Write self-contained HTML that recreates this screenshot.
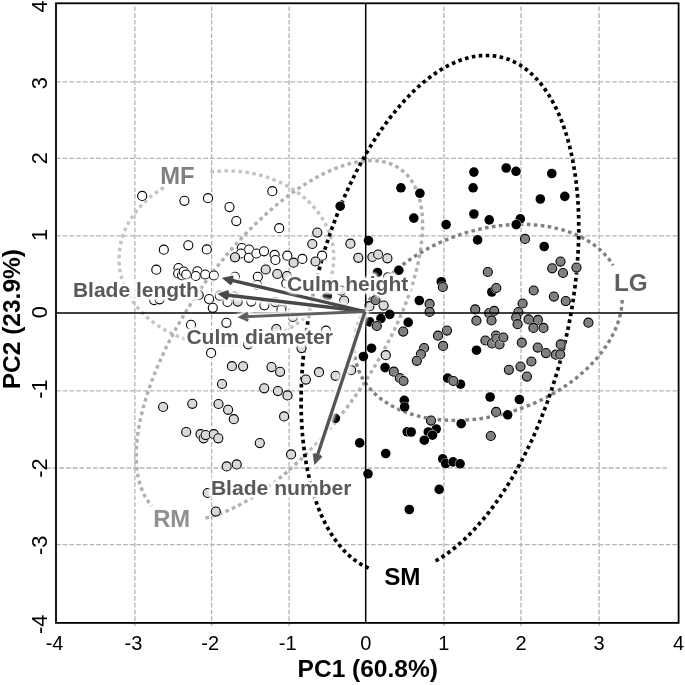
<!DOCTYPE html>
<html><head><meta charset="utf-8"><title>PCA biplot</title>
<style>
html,body{margin:0;padding:0;background:#fff}
svg{display:block}
.h{fill:#fff;stroke:none;opacity:.8}
text{font-family:"Liberation Sans",Arial,Helvetica,sans-serif}
</style></head><body>
<svg width="685" height="685" viewBox="0 0 685 685">
<defs><filter id="b" x="-10%" y="-30%" width="120%" height="160%"><feGaussianBlur stdDeviation="1.1"/></filter><filter id="b2" x="-10%" y="-10%" width="120%" height="120%"><feGaussianBlur stdDeviation="1.4"/></filter></defs>
<rect width="685" height="685" fill="#fff"/>
<g stroke="#b4b4b4" stroke-width="1.3" stroke-dasharray="4.7 2" fill="none"><line x1="134.9" y1="6.5" x2="134.9" y2="626"/><line x1="211.6" y1="6.5" x2="211.6" y2="626"/><line x1="289.1" y1="6.5" x2="289.1" y2="626"/><line x1="443.9" y1="6.5" x2="443.9" y2="626"/><line x1="521.0" y1="6.5" x2="521.0" y2="626"/><line x1="599.1" y1="6.5" x2="599.1" y2="626"/><line x1="56" y1="81.9" x2="679" y2="81.9"/><line x1="56" y1="158.4" x2="679" y2="158.4"/><line x1="56" y1="235.9" x2="679" y2="235.9"/><line x1="56" y1="390.9" x2="679" y2="390.9"/><line x1="56" y1="544.7" x2="679" y2="544.7"/><line x1="46" y1="468" x2="667" y2="468"/></g>
<g fill="none" stroke-width="3.7" stroke-dasharray="3.6 3.4">
<path d="M210.5 172.0 L213.1 171.7 L215.7 171.4 L218.3 171.2 L220.9 171.1 L223.5 171.0 L226.1 170.9 L228.7 170.9 L231.3 171.0 L234.0 171.1 L236.6 171.3 L239.2 171.5 L241.8 171.8 L244.3 172.1 L246.9 172.4 L249.5 172.9 L252.0 173.3 L254.6 173.8 L257.1 174.4 L259.6 175.0 L262.0 175.7 L264.5 176.4 L266.9 177.2 L269.3 178.0 L271.7 178.9 L274.1 179.8 L276.4 180.7 L278.7 181.7 L281.0 182.8 L283.2 183.9 L285.4 185.0 L287.6 186.2 L289.7 187.4 L291.8 188.7 L293.9 190.0 L295.9 191.3 L297.9 192.7 L299.8 194.1 L301.7 195.6 L303.5 197.1 L305.3 198.6 L307.1 200.2 L308.8 201.8 L310.4 203.4 L312.0 205.1 L313.6 206.8 L315.1 208.5 L316.5 210.3 L317.9 212.1 L319.3 213.9 L320.5 215.7 L321.8 217.6 L323.0 219.5 L324.1 221.4 L325.1 223.3 L326.1 225.3 L327.1 227.3 L327.9 229.3 L328.8 231.3 L329.5 233.3 L330.2 235.4 L330.9 237.4 L331.4 239.5 L332.0 241.6 L332.4 243.7 L332.8 245.8 L333.1 247.9 L333.4 250.0 L333.6 252.1 L333.7 254.2 L333.8 256.3 L333.8 258.5 L333.7 260.6 L333.6 262.7 L333.4 264.8 L333.2 267.0 L332.9 269.1 L332.5 271.2 L332.1 273.3 L331.6 275.4 L331.0 277.4 L330.4 279.5 L329.7 281.6 L329.0 283.6 L328.1 285.6 L327.3 287.6 L326.4 289.6 L325.4 291.6 L324.3 293.5 L323.2 295.5 L322.1 297.4 L320.8 299.3 L319.6 301.1 L318.2 303.0 L316.9 304.8 L315.4 306.6 L313.9 308.3 L312.4 310.0 L310.8 311.7 L309.2 313.4 L307.5 315.0 L305.7 316.6 L303.9 318.2 L302.1 319.7 L300.2 321.2 L298.3 322.6 L296.3 324.1 L294.3 325.4 L292.3 326.8 L290.2 328.1 L288.1 329.3 L285.9 330.5 L283.7 331.7 L281.5 332.8 L279.2 333.9 L276.9 334.9 L274.6 335.9 L272.3 336.9 L269.9 337.8 L267.5 338.6 L265.1 339.4 L262.6 340.2 L260.1 340.9 L257.6 341.5 L255.1 342.1 L252.6 342.7 L250.1 343.2 L247.5 343.6 L244.9 344.0 L242.4 344.4 L239.8 344.7 L237.2 344.9 L234.6 345.1 L232.0 345.3 L229.3 345.4 L226.7 345.4 L224.1 345.4 L221.5 345.4 L218.9 345.3 L216.3 345.1 L213.7 344.9 L211.1 344.6 L208.5 344.3 L205.9 343.9 L203.4 343.5 L200.8 343.1 L198.3 342.5 L195.8 342.0 L193.3 341.3 L190.8 340.7 L188.3 340.0 L185.9 339.2 L183.5 338.4 L181.1 337.5 L178.8 336.6 L176.4 335.7 L174.1 334.7 L171.9 333.6 L169.6 332.5 L167.4 331.4 L165.3 330.2 L163.1 329.0 L161.0 327.7 L159.0 326.4 L157.0 325.1 L155.0 323.7 L153.1 322.3 L151.2 320.8 L149.3 319.3 L147.5 317.8 L145.8 316.2 L144.1 314.6 L142.4 313.0 L140.8 311.3 L139.3 309.6 L137.8 307.9 L136.3 306.1 L134.9 304.3 L133.6 302.5 L132.3 300.6 L131.1 298.8 L129.9 296.9 L128.8 295.0 L127.7 293.0 L126.7 291.1 L125.8 289.1 L124.9 287.1 L124.1 285.1 L123.3 283.1 L122.6 281.0 L122.0 279.0 L121.4 276.9 L120.9 274.8 L120.4 272.7 L120.0 270.6 L119.7 268.5 L119.5 266.4 L119.3 264.3 L119.1 262.2 L119.1 260.0 L119.0 257.9 L119.1 255.8 L119.2 253.7 L119.4 251.5 L119.7 249.4 L120.0 247.3 L120.3 245.2 L120.8 243.1 L121.3 241.0 L121.8 238.9 L122.5 236.9 L123.1 234.8 L123.9 232.8 L124.7 230.8 L125.6 228.7 L126.5 226.8 L127.5 224.8 L128.5 222.8 L129.6 220.9 L130.8 219.0 L132.0 217.1 L133.3 215.2 L134.6 213.4 L136.0 211.6 L137.4 209.8 L138.9 208.1 L140.5 206.3 L142.0 204.6 L143.7 203.0 L145.4 201.3 L147.1 199.8 L148.9 198.2 L150.7 196.7 L152.6 195.2 L154.5 193.7 L156.5 192.3 L158.5 190.9 L160.6 189.6 L162.6 188.3 L164.8 187.1" stroke="#c4c4c4" stroke-width="3.4"/>
<path d="M205.5 518.0 L208.5 517.3 L211.5 516.5 L214.5 515.6 L217.6 514.5 L220.7 513.4 L223.9 512.2 L227.1 510.9 L230.3 509.5 L233.5 507.9 L236.8 506.3 L240.1 504.6 L243.4 502.8 L246.7 500.9 L250.1 498.9 L253.4 496.9 L256.8 494.7 L260.2 492.4 L263.6 490.1 L267.0 487.7 L270.4 485.2 L273.9 482.6 L277.3 479.9 L280.7 477.1 L284.2 474.3 L287.6 471.4 L291.0 468.4 L294.4 465.3 L297.8 462.2 L301.2 459.0 L304.6 455.7 L308.0 452.4 L311.3 449.0 L314.7 445.5 L318.0 442.0 L321.3 438.4 L324.6 434.7 L327.8 431.0 L331.0 427.3 L334.2 423.5 L337.4 419.7 L340.5 415.8 L343.6 411.8 L346.6 407.9 L349.6 403.8 L352.6 399.8 L355.5 395.7 L358.4 391.6 L361.2 387.5 L364.0 383.3 L366.8 379.1 L369.5 374.9 L372.1 370.6 L374.7 366.4 L377.2 362.1 L379.7 357.8 L382.1 353.5 L384.5 349.2 L386.8 344.9 L389.0 340.6 L391.2 336.3 L393.3 332.0 L395.4 327.7 L397.4 323.4 L399.3 319.1 L401.1 314.8 L402.9 310.6 L404.6 306.4 L406.2 302.1 L407.8 297.9 L409.3 293.8 L410.7 289.6 L412.0 285.5 L413.3 281.4 L414.5 277.4 L415.6 273.3 L416.6 269.4 L417.5 265.4 L418.4 261.5 L419.2 257.7 L419.9 253.9 L420.5 250.1 L421.1 246.4 L421.5 242.8 L421.9 239.2 L422.2 235.7 L422.4 232.2 L422.6 228.8 L422.6 225.4 L422.6 222.2 L422.5 218.9 L422.3 215.8 L422.0 212.7 L421.7 209.7 L421.2 206.8 L420.7 204.0 L420.1 201.2 L419.4 198.5 L418.7 195.9 L417.8 193.4 L416.9 191.0 L415.9 188.6 L414.8 186.3 L413.7 184.2 L412.4 182.1 L411.1 180.1 L409.8 178.2 L408.3 176.4 L406.8 174.7 L405.2 173.0 L403.5 171.5 L401.7 170.1 L399.9 168.7 L398.0 167.5 L396.1 166.4 L394.0 165.4 L391.9 164.4 L389.8 163.6 L387.6 162.9 L385.3 162.2 L383.0 161.7 L380.6 161.3 L378.1 161.0 L375.6 160.8 L373.0 160.6 L370.4 160.6 L367.7 160.7 L365.0 160.9 L362.2 161.2 L359.4 161.6 L356.5 162.1 L353.6 162.7 L350.6 163.4 L347.6 164.3 L344.6 165.2 L341.5 166.2 L338.4 167.3 L335.3 168.5 L332.1 169.8 L328.9 171.2 L325.7 172.7 L322.4 174.3 L319.1 176.0 L315.8 177.8 L312.5 179.7 L309.1 181.7 L305.8 183.8 L302.4 185.9 L299.0 188.2 L295.6 190.5 L292.2 192.9 L288.7 195.4 L285.3 198.0 L281.9 200.7 L278.5 203.4 L275.0 206.3 L271.6 209.2 L268.2 212.2 L264.8 215.2 L261.4 218.4 L258.0 221.6 L254.6 224.8 L251.2 228.2 L247.8 231.5 L244.5 235.0 L241.2 238.5 L237.9 242.1 L234.6 245.7 L231.4 249.4 L228.2 253.2 L225.0 257.0 L221.8 260.8 L218.7 264.7 L215.6 268.6 L212.5 272.6 L209.5 276.6 L206.5 280.6 L203.6 284.7 L200.7 288.8 L197.9 293.0 L195.1 297.1 L192.3 301.3 L189.6 305.6 L187.0 309.8 L184.4 314.1 L181.9 318.3 L179.4 322.6 L176.9 326.9 L174.6 331.2 L172.3 335.5 L170.0 339.8 L167.8 344.1 L165.7 348.4 L163.7 352.7 L161.7 357.0 L159.8 361.3 L157.9 365.6 L156.1 369.8 L154.4 374.1 L152.8 378.3 L151.2 382.5 L149.7 386.7 L148.3 390.8 L147.0 394.9 L145.7 399.0 L144.5 403.1 L143.4 407.1 L142.4 411.1 L141.4 415.0 L140.5 418.9 L139.7 422.8 L139.0 426.6 L138.4 430.3 L137.8 434.1 L137.4 437.7 L137.0 441.3 L136.7 444.8 L136.4 448.3 L136.3 451.7 L136.2 455.1 L136.2 458.4 L136.4 461.6 L136.5 464.7 L136.8 467.8 L137.1 470.8 L137.6 473.7 L138.1 476.6 L138.7 479.4 L139.4 482.1 L140.1 484.7 L140.9 487.2 L141.9 489.6 L142.8 492.0 L143.9 494.3 L145.1 496.5 L146.3 498.6 L147.6 500.6 L149.0 502.5 L150.4 504.3 L151.9 506.0" stroke="#b0b0b0" stroke-width="3.4"/>
<path d="M622.2 300.0 L622.1 302.4 L621.9 304.7 L621.6 307.1 L621.3 309.5 L620.8 311.9 L620.3 314.3 L619.7 316.7 L619.1 319.1 L618.3 321.6 L617.5 324.0 L616.6 326.4 L615.6 328.8 L614.5 331.2 L613.4 333.6 L612.1 336.0 L610.8 338.4 L609.5 340.8 L608.0 343.1 L606.5 345.5 L604.9 347.8 L603.3 350.2 L601.5 352.5 L599.7 354.8 L597.9 357.0 L595.9 359.3 L593.9 361.5 L591.9 363.7 L589.8 365.9 L587.6 368.0 L585.3 370.2 L583.0 372.3 L580.6 374.3 L578.2 376.4 L575.8 378.4 L573.2 380.3 L570.6 382.3 L568.0 384.1 L565.3 386.0 L562.6 387.8 L559.8 389.6 L557.0 391.3 L554.2 393.0 L551.3 394.7 L548.3 396.3 L545.4 397.9 L542.4 399.4 L539.3 400.8 L536.3 402.3 L533.2 403.6 L530.0 405.0 L526.9 406.2 L523.7 407.5 L520.5 408.6 L517.3 409.8 L514.1 410.8 L510.8 411.8 L507.5 412.8 L504.3 413.7 L501.0 414.6 L497.7 415.3 L494.4 416.1 L491.1 416.8 L487.8 417.4 L484.5 418.0 L481.2 418.5 L477.9 418.9 L474.6 419.3 L471.3 419.6 L468.0 419.9 L464.8 420.1 L461.5 420.3 L458.3 420.4 L455.1 420.4 L451.9 420.4 L448.7 420.3 L445.6 420.1 L442.5 419.9 L439.4 419.7 L436.3 419.3 L433.3 419.0 L430.3 418.5 L427.3 418.0 L424.4 417.5 L421.5 416.8 L418.6 416.2 L415.8 415.4 L413.1 414.7 L410.4 413.8 L407.7 412.9 L405.1 412.0 L402.5 411.0 L400.0 409.9 L397.5 408.8 L395.1 407.6 L392.8 406.4 L390.5 405.1 L388.3 403.8 L386.1 402.4 L384.0 401.0 L381.9 399.6 L379.9 398.0 L378.0 396.5 L376.2 394.9 L374.4 393.2 L372.7 391.5 L371.0 389.8 L369.5 388.0 L368.0 386.2 L366.5 384.4 L365.2 382.5 L363.9 380.6 L362.7 378.6 L361.6 376.6 L360.5 374.6 L359.6 372.5 L358.7 370.4 L357.9 368.3 L357.1 366.2 L356.5 364.0 L355.9 361.8 L355.4 359.6 L355.0 357.3 L354.6 355.0 L354.4 352.8 L354.2 350.5 L354.1 348.1 L354.1 345.8 L354.2 343.4 L354.3 341.1 L354.6 338.7 L354.9 336.3 L355.3 333.9 L355.8 331.5 L356.3 329.1 L357.0 326.7 L357.7 324.3 L358.5 321.9 L359.4 319.4 L360.3 317.0 L361.3 314.6 L362.5 312.2 L363.6 309.8 L364.9 307.4 L366.2 305.0 L367.7 302.7 L369.1 300.3 L370.7 298.0 L372.3 295.6 L374.0 293.3 L375.8 291.0 L377.6 288.7 L379.5 286.5 L381.5 284.2 L383.5 282.0 L385.6 279.8 L387.8 277.7 L390.0 275.5 L392.3 273.4 L394.6 271.4 L397.0 269.3 L399.5 267.3 L402.0 265.3 L404.5 263.4 L407.1 261.4 L409.8 259.6 L412.5 257.7 L415.3 255.9 L418.0 254.2 L420.9 252.5 L423.8 250.8 L426.7 249.2 L429.6 247.6 L432.6 246.0 L435.6 244.6 L438.7 243.1 L441.8 241.7 L444.9 240.4 L448.0 239.1 L451.2 237.8 L454.4 236.6 L457.6 235.5 L460.8 234.4 L464.1 233.4 L467.3 232.4 L470.6 231.4 L473.9 230.6 L477.2 229.7 L480.5 229.0 L483.8 228.3 L487.1 227.6 L490.4 227.0 L493.7 226.5 L497.0 226.0 L500.3 225.6 L503.6 225.3 L506.8 225.0 L510.1 224.7 L513.4 224.5 L516.6 224.4 L519.8 224.4 L523.0 224.4 L526.2 224.4 L529.4 224.5 L532.5 224.7 L535.6 225.0 L538.7 225.3 L541.7 225.6 L544.7 226.0 L547.7 226.5 L550.7 227.0 L553.6 227.6 L556.4 228.3 L559.2 229.0 L562.0 229.7 L564.8 230.5 L567.4 231.4 L570.1 232.3 L572.7 233.3 L575.2 234.4 L577.7 235.5 L580.1 236.6 L582.5 237.8 L584.8 239.0 L587.1 240.3 L589.3 241.7 L591.4 243.1 L593.5 244.5 L595.5 246.0 L597.5 247.5 L599.3 249.1 L601.2 250.8 L602.9 252.4 L604.6 254.1 L606.2 255.9 L607.7 257.7 L609.2 259.5 L610.6 261.4 L611.9 263.3 L613.1 265.3" stroke="#808080" stroke-width="3.4"/>
<path d="M435.6 561.0 L439.0 559.0 L442.3 556.9 L445.7 554.6 L449.0 552.2 L452.4 549.6 L455.7 547.0 L459.0 544.1 L462.4 541.2 L465.7 538.1 L469.0 534.9 L472.2 531.6 L475.5 528.1 L478.7 524.5 L481.9 520.8 L485.1 516.9 L488.3 513.0 L491.4 508.9 L494.5 504.7 L497.6 500.4 L500.6 496.0 L503.6 491.5 L506.6 486.9 L509.5 482.2 L512.4 477.4 L515.2 472.5 L518.0 467.5 L520.8 462.4 L523.5 457.2 L526.1 451.9 L528.7 446.6 L531.3 441.2 L533.8 435.7 L536.2 430.1 L538.6 424.5 L540.9 418.8 L543.2 413.1 L545.4 407.2 L547.6 401.4 L549.7 395.5 L551.7 389.5 L553.6 383.5 L555.5 377.4 L557.4 371.3 L559.1 365.2 L560.8 359.1 L562.4 352.9 L564.0 346.7 L565.4 340.5 L566.8 334.3 L568.2 328.0 L569.4 321.8 L570.6 315.5 L571.7 309.3 L572.7 303.0 L573.6 296.8 L574.5 290.5 L575.3 284.3 L576.0 278.1 L576.6 271.9 L577.2 265.7 L577.6 259.6 L578.0 253.5 L578.3 247.5 L578.6 241.4 L578.7 235.4 L578.8 229.5 L578.7 223.6 L578.7 217.8 L578.5 212.0 L578.2 206.3 L577.9 200.6 L577.5 195.1 L576.9 189.5 L576.4 184.1 L575.7 178.7 L575.0 173.4 L574.1 168.2 L573.2 163.1 L572.3 158.1 L571.2 153.1 L570.1 148.3 L568.9 143.5 L567.6 138.9 L566.2 134.3 L564.8 129.9 L563.3 125.6 L561.7 121.3 L560.1 117.2 L558.4 113.2 L556.6 109.3 L554.7 105.6 L552.8 101.9 L550.8 98.4 L548.8 95.0 L546.7 91.8 L544.5 88.6 L542.3 85.6 L540.0 82.8 L537.6 80.0 L535.2 77.5 L532.7 75.0 L530.2 72.7 L527.6 70.5 L525.0 68.5 L522.3 66.6 L519.6 64.8 L516.8 63.3 L514.0 61.8 L511.2 60.5 L508.3 59.3 L505.3 58.3 L502.3 57.5 L499.3 56.8 L496.3 56.2 L493.2 55.8 L490.1 55.6 L486.9 55.5 L483.8 55.5 L480.6 55.7 L477.4 56.0 L474.1 56.5 L470.9 57.2 L467.6 58.0 L464.3 59.0 L461.0 60.1 L457.6 61.3 L454.3 62.7 L451.0 64.2 L447.6 65.9 L444.3 67.8 L440.9 69.7 L437.6 71.9 L434.2 74.1 L430.9 76.5 L427.5 79.1 L424.2 81.8 L420.8 84.6 L417.5 87.5 L414.2 90.6 L410.9 93.8 L407.7 97.2 L404.4 100.6 L401.2 104.2 L398.0 107.9 L394.8 111.8 L391.6 115.7 L388.5 119.8 L385.4 124.0 L382.3 128.3 L379.3 132.7 L376.3 137.2 L373.3 141.8 L370.4 146.5 L367.5 151.3 L364.7 156.2 L361.9 161.2 L359.1 166.3 L356.4 171.5 L353.8 176.8 L351.2 182.1 L348.6 187.5 L346.1 193.0 L343.7 198.6 L341.3 204.2 L339.0 209.9 L336.7 215.7 L334.5 221.5 L332.3 227.3 L330.2 233.2 L328.2 239.2 L326.2 245.2 L324.4 251.3 L322.5 257.4 L320.8 263.5 L319.1 269.6 L317.5 275.8 L315.9 282.0 L314.5 288.2 L313.1 294.4 L311.7 300.7 L310.5 306.9 L309.3 313.2 L308.2 319.5 L307.2 325.7 L306.3 332.0 L305.4 338.2 L304.6 344.4 L303.9 350.6 L303.3 356.8 L302.7 363.0 L302.3 369.1 L301.9 375.2 L301.6 381.3 L301.3 387.3 L301.2 393.3 L301.1 399.2 L301.1 405.1 L301.2 410.9 L301.4 416.7 L301.7 422.4 L302.0 428.1 L302.4 433.7 L302.9 439.2 L303.5 444.6 L304.2 450.0 L304.9 455.3 L305.7 460.5 L306.6 465.6 L307.6 470.6 L308.7 475.6 L309.8 480.4 L311.0 485.2 L312.3 489.8 L313.6 494.4 L315.1 498.8 L316.6 503.2 L318.1 507.4 L319.8 511.5 L321.5 515.5 L323.3 519.4 L325.1 523.1 L327.1 526.8 L329.0 530.3 L331.1 533.7 L333.2 536.9 L335.4 540.1 L337.6 543.1 L339.9 545.9 L342.3 548.7 L344.7 551.3 L347.2 553.7 L349.7 556.0 L352.2 558.2 L354.9 560.2 L357.5 562.1 L360.3 563.9 L363.0 565.5 L365.9 566.9 L368.7 568.2" stroke="#000"/>
</g>
<g stroke="#000" stroke-width="1.1">
<g fill="#fff"><circle cx="142.2" cy="195.9" r="5.6" class="h"/><circle cx="142.2" cy="195.9" r="4.55"/>
<circle cx="184.4" cy="200.8" r="5.6" class="h"/><circle cx="184.4" cy="200.8" r="4.55"/>
<circle cx="208.0" cy="198.2" r="5.6" class="h"/><circle cx="208.0" cy="198.2" r="4.55"/>
<circle cx="229.5" cy="207.1" r="5.6" class="h"/><circle cx="229.5" cy="207.1" r="4.55"/>
<circle cx="236.3" cy="221.1" r="5.6" class="h"/><circle cx="236.3" cy="221.1" r="4.55"/>
<circle cx="272.3" cy="191.2" r="5.6" class="h"/><circle cx="272.3" cy="191.2" r="4.55"/>
<circle cx="279.2" cy="228.2" r="5.6" class="h"/><circle cx="279.2" cy="228.2" r="4.55"/>
<circle cx="163.8" cy="249.7" r="5.6" class="h"/><circle cx="163.8" cy="249.7" r="4.55"/>
<circle cx="188.3" cy="245.3" r="5.6" class="h"/><circle cx="188.3" cy="245.3" r="4.55"/>
<circle cx="206.8" cy="249.4" r="5.6" class="h"/><circle cx="206.8" cy="249.4" r="4.55"/>
<circle cx="156.3" cy="269.7" r="5.6" class="h"/><circle cx="156.3" cy="269.7" r="4.55"/>
<circle cx="178.5" cy="268.0" r="5.6" class="h"/><circle cx="178.5" cy="268.0" r="4.55"/>
<circle cx="178.2" cy="273.5" r="5.6" class="h"/><circle cx="178.2" cy="273.5" r="4.55"/>
<circle cx="182.1" cy="275.3" r="5.6" class="h"/><circle cx="182.1" cy="275.3" r="4.55"/>
<circle cx="183.7" cy="271.6" r="5.6" class="h"/><circle cx="183.7" cy="271.6" r="4.55"/>
<circle cx="186.2" cy="274.5" r="5.6" class="h"/><circle cx="186.2" cy="274.5" r="4.55"/>
<circle cx="197.4" cy="271.3" r="5.6" class="h"/><circle cx="197.4" cy="271.3" r="4.55"/>
<circle cx="195.7" cy="276.0" r="5.6" class="h"/><circle cx="195.7" cy="276.0" r="4.55"/>
<circle cx="205.2" cy="274.5" r="5.6" class="h"/><circle cx="205.2" cy="274.5" r="4.55"/>
<circle cx="213.9" cy="275.5" r="5.6" class="h"/><circle cx="213.9" cy="275.5" r="4.55"/>
<circle cx="154.1" cy="300.1" r="5.6" class="h"/><circle cx="154.1" cy="300.1" r="4.55"/>
<circle cx="159.6" cy="299.3" r="5.6" class="h"/><circle cx="159.6" cy="299.3" r="4.55"/>
<circle cx="209.1" cy="299.1" r="5.6" class="h"/><circle cx="209.1" cy="299.1" r="4.55"/>
<circle cx="212.8" cy="307.8" r="5.6" class="h"/><circle cx="212.8" cy="307.8" r="4.55"/>
<circle cx="219.8" cy="295.7" r="5.6" class="h"/><circle cx="219.8" cy="295.7" r="4.55"/>
<circle cx="227.5" cy="302.0" r="5.6" class="h"/><circle cx="227.5" cy="302.0" r="4.55"/>
<circle cx="191.0" cy="324.8" r="5.6" class="h"/><circle cx="191.0" cy="324.8" r="4.55"/>
<circle cx="226.4" cy="322.8" r="5.6" class="h"/><circle cx="226.4" cy="322.8" r="4.55"/>
<circle cx="241.8" cy="248.1" r="5.6" class="h"/><circle cx="241.8" cy="248.1" r="4.55"/>
<circle cx="249.1" cy="249.5" r="5.6" class="h"/><circle cx="249.1" cy="249.5" r="4.55"/>
<circle cx="241.0" cy="253.5" r="5.6" class="h"/><circle cx="241.0" cy="253.5" r="4.55"/>
<circle cx="248.8" cy="257.8" r="5.6" class="h"/><circle cx="248.8" cy="257.8" r="4.55"/>
<circle cx="256.4" cy="253.5" r="5.6" class="h"/><circle cx="256.4" cy="253.5" r="4.55"/>
<circle cx="264.0" cy="251.3" r="5.6" class="h"/><circle cx="264.0" cy="251.3" r="4.55"/>
<circle cx="274.6" cy="254.9" r="5.6" class="h"/><circle cx="274.6" cy="254.9" r="4.55"/>
<circle cx="275.4" cy="260.0" r="5.6" class="h"/><circle cx="275.4" cy="260.0" r="4.55"/>
<circle cx="287.3" cy="255.7" r="5.6" class="h"/><circle cx="287.3" cy="255.7" r="4.55"/>
<circle cx="302.4" cy="258.9" r="5.6" class="h"/><circle cx="302.4" cy="258.9" r="4.55"/>
<circle cx="322.1" cy="255.7" r="5.6" class="h"/><circle cx="322.1" cy="255.7" r="4.55"/>
<circle cx="257.8" cy="276.8" r="5.6" class="h"/><circle cx="257.8" cy="276.8" r="4.55"/>
<circle cx="286.3" cy="283.4" r="5.6" class="h"/><circle cx="286.3" cy="283.4" r="4.55"/>
<circle cx="234.9" cy="276.8" r="5.6" class="h"/><circle cx="234.9" cy="276.8" r="4.55"/>
<circle cx="257.1" cy="284.9" r="5.6" class="h"/><circle cx="257.1" cy="284.9" r="4.55"/>
<circle cx="233.8" cy="296.5" r="5.6" class="h"/><circle cx="233.8" cy="296.5" r="4.55"/>
<circle cx="251.3" cy="301.6" r="5.6" class="h"/><circle cx="251.3" cy="301.6" r="4.55"/>
<circle cx="264.4" cy="305.3" r="5.6" class="h"/><circle cx="264.4" cy="305.3" r="4.55"/>
<circle cx="281.6" cy="307.0" r="5.6" class="h"/><circle cx="281.6" cy="307.0" r="4.55"/>
<circle cx="211.1" cy="352.9" r="5.6" class="h"/><circle cx="211.1" cy="352.9" r="4.55"/>
<circle cx="281.4" cy="310.0" r="5.6" class="h"/><circle cx="281.4" cy="310.0" r="4.55"/>
<circle cx="326.0" cy="330.7" r="5.6" class="h"/><circle cx="326.0" cy="330.7" r="4.55"/></g>
<g fill="#d9d9d9"><circle cx="235.0" cy="257.3" r="5.6" class="h"/><circle cx="235.0" cy="257.3" r="4.55"/>
<circle cx="265.7" cy="269.5" r="5.6" class="h"/><circle cx="265.7" cy="269.5" r="4.55"/>
<circle cx="277.3" cy="274.0" r="5.6" class="h"/><circle cx="277.3" cy="274.0" r="4.55"/>
<circle cx="287.0" cy="276.1" r="5.6" class="h"/><circle cx="287.0" cy="276.1" r="4.55"/>
<circle cx="293.6" cy="262.7" r="5.6" class="h"/><circle cx="293.6" cy="262.7" r="4.55"/>
<circle cx="315.5" cy="261.5" r="5.6" class="h"/><circle cx="315.5" cy="261.5" r="4.55"/>
<circle cx="312.3" cy="244.0" r="5.6" class="h"/><circle cx="312.3" cy="244.0" r="4.55"/>
<circle cx="317.3" cy="232.6" r="5.6" class="h"/><circle cx="317.3" cy="232.6" r="4.55"/>
<circle cx="198.7" cy="295.1" r="5.6" class="h"/><circle cx="198.7" cy="295.1" r="4.55"/>
<circle cx="237.7" cy="301.6" r="5.6" class="h"/><circle cx="237.7" cy="301.6" r="4.55"/>
<circle cx="275.2" cy="302.1" r="5.6" class="h"/><circle cx="275.2" cy="302.1" r="4.55"/>
<circle cx="292.9" cy="317.0" r="5.6" class="h"/><circle cx="292.9" cy="317.0" r="4.55"/>
<circle cx="350.4" cy="243.7" r="5.6" class="h"/><circle cx="350.4" cy="243.7" r="4.55"/>
<circle cx="358.3" cy="257.8" r="5.6" class="h"/><circle cx="358.3" cy="257.8" r="4.55"/>
<circle cx="372.4" cy="257.0" r="5.6" class="h"/><circle cx="372.4" cy="257.0" r="4.55"/>
<circle cx="378.1" cy="254.5" r="5.6" class="h"/><circle cx="378.1" cy="254.5" r="4.55"/>
<circle cx="387.4" cy="258.3" r="5.6" class="h"/><circle cx="387.4" cy="258.3" r="4.55"/>
<circle cx="387.9" cy="277.3" r="5.6" class="h"/><circle cx="387.9" cy="277.3" r="4.55"/>
<circle cx="341.2" cy="290.7" r="5.6" class="h"/><circle cx="341.2" cy="290.7" r="4.55"/>
<circle cx="344.1" cy="300.5" r="5.6" class="h"/><circle cx="344.1" cy="300.5" r="4.55"/>
<circle cx="369.4" cy="306.2" r="5.6" class="h"/><circle cx="369.4" cy="306.2" r="4.55"/>
<circle cx="383.6" cy="305.6" r="5.6" class="h"/><circle cx="383.6" cy="305.6" r="4.55"/>
<circle cx="385.8" cy="355.2" r="5.6" class="h"/><circle cx="385.8" cy="355.2" r="4.55"/>
<circle cx="248.1" cy="344.3" r="5.6" class="h"/><circle cx="248.1" cy="344.3" r="4.55"/>
<circle cx="231.9" cy="366.2" r="5.6" class="h"/><circle cx="231.9" cy="366.2" r="4.55"/>
<circle cx="243.1" cy="366.3" r="5.6" class="h"/><circle cx="243.1" cy="366.3" r="4.55"/>
<circle cx="271.5" cy="367.1" r="5.6" class="h"/><circle cx="271.5" cy="367.1" r="4.55"/>
<circle cx="222.0" cy="384.0" r="5.6" class="h"/><circle cx="222.0" cy="384.0" r="4.55"/>
<circle cx="264.2" cy="388.3" r="5.6" class="h"/><circle cx="264.2" cy="388.3" r="4.55"/>
<circle cx="163.1" cy="407.0" r="5.6" class="h"/><circle cx="163.1" cy="407.0" r="4.55"/>
<circle cx="192.3" cy="403.8" r="5.6" class="h"/><circle cx="192.3" cy="403.8" r="4.55"/>
<circle cx="218.5" cy="404.0" r="5.6" class="h"/><circle cx="218.5" cy="404.0" r="4.55"/>
<circle cx="228.1" cy="409.8" r="5.6" class="h"/><circle cx="228.1" cy="409.8" r="4.55"/>
<circle cx="233.8" cy="419.2" r="5.6" class="h"/><circle cx="233.8" cy="419.2" r="4.55"/>
<circle cx="186.2" cy="432.0" r="5.6" class="h"/><circle cx="186.2" cy="432.0" r="4.55"/>
<circle cx="200.5" cy="434.2" r="5.6" class="h"/><circle cx="200.5" cy="434.2" r="4.55"/>
<circle cx="203.6" cy="438.3" r="5.6" class="h"/><circle cx="203.6" cy="438.3" r="4.55"/>
<circle cx="205.6" cy="435.1" r="5.6" class="h"/><circle cx="205.6" cy="435.1" r="4.55"/>
<circle cx="213.8" cy="434.2" r="5.6" class="h"/><circle cx="213.8" cy="434.2" r="4.55"/>
<circle cx="218.3" cy="438.3" r="5.6" class="h"/><circle cx="218.3" cy="438.3" r="4.55"/>
<circle cx="259.8" cy="443.1" r="5.6" class="h"/><circle cx="259.8" cy="443.1" r="4.55"/>
<circle cx="226.7" cy="466.4" r="5.6" class="h"/><circle cx="226.7" cy="466.4" r="4.55"/>
<circle cx="236.7" cy="464.4" r="5.6" class="h"/><circle cx="236.7" cy="464.4" r="4.55"/>
<circle cx="207.7" cy="493.0" r="5.6" class="h"/><circle cx="207.7" cy="493.0" r="4.55"/>
<circle cx="215.8" cy="511.6" r="5.6" class="h"/><circle cx="215.8" cy="511.6" r="4.55"/>
<circle cx="276.3" cy="329.0" r="5.6" class="h"/><circle cx="276.3" cy="329.0" r="4.55"/>
<circle cx="301.5" cy="348.1" r="5.6" class="h"/><circle cx="301.5" cy="348.1" r="4.55"/>
<circle cx="280.1" cy="371.8" r="5.6" class="h"/><circle cx="280.1" cy="371.8" r="4.55"/>
<circle cx="319.0" cy="372.2" r="5.6" class="h"/><circle cx="319.0" cy="372.2" r="4.55"/>
<circle cx="335.6" cy="375.8" r="5.6" class="h"/><circle cx="335.6" cy="375.8" r="4.55"/>
<circle cx="305.9" cy="379.6" r="5.6" class="h"/><circle cx="305.9" cy="379.6" r="4.55"/>
<circle cx="277.9" cy="391.1" r="5.6" class="h"/><circle cx="277.9" cy="391.1" r="4.55"/>
<circle cx="287.5" cy="395.4" r="5.6" class="h"/><circle cx="287.5" cy="395.4" r="4.55"/>
<circle cx="284.1" cy="416.4" r="5.6" class="h"/><circle cx="284.1" cy="416.4" r="4.55"/>
<circle cx="291.1" cy="454.4" r="5.6" class="h"/><circle cx="291.1" cy="454.4" r="4.55"/>
<circle cx="351.1" cy="370.2" r="5.6" class="h"/><circle cx="351.1" cy="370.2" r="4.55"/></g>
<g fill="#000" stroke="none"><circle cx="340.2" cy="206.2" r="5.35" class="h"/><circle cx="340.2" cy="206.2" r="4.8"/>
<circle cx="400.9" cy="187.8" r="5.35" class="h"/><circle cx="400.9" cy="187.8" r="4.8"/>
<circle cx="419.9" cy="193.3" r="5.35" class="h"/><circle cx="419.9" cy="193.3" r="4.8"/>
<circle cx="413.8" cy="218.1" r="5.35" class="h"/><circle cx="413.8" cy="218.1" r="4.8"/>
<circle cx="446.1" cy="224.6" r="5.35" class="h"/><circle cx="446.1" cy="224.6" r="4.8"/>
<circle cx="368.5" cy="240.6" r="5.35" class="h"/><circle cx="368.5" cy="240.6" r="4.8"/>
<circle cx="377.5" cy="272.5" r="5.35" class="h"/><circle cx="377.5" cy="272.5" r="4.8"/>
<circle cx="398.8" cy="270.3" r="5.35" class="h"/><circle cx="398.8" cy="270.3" r="4.8"/>
<circle cx="441.3" cy="281.7" r="5.35" class="h"/><circle cx="441.3" cy="281.7" r="4.8"/>
<circle cx="473.9" cy="172.1" r="5.35" class="h"/><circle cx="473.9" cy="172.1" r="4.8"/>
<circle cx="506.2" cy="168.0" r="5.35" class="h"/><circle cx="506.2" cy="168.0" r="4.8"/>
<circle cx="516.0" cy="171.3" r="5.35" class="h"/><circle cx="516.0" cy="171.3" r="4.8"/>
<circle cx="551.8" cy="173.5" r="5.35" class="h"/><circle cx="551.8" cy="173.5" r="4.8"/>
<circle cx="473.1" cy="187.8" r="5.35" class="h"/><circle cx="473.1" cy="187.8" r="4.8"/>
<circle cx="540.3" cy="199.0" r="5.35" class="h"/><circle cx="540.3" cy="199.0" r="4.8"/>
<circle cx="564.8" cy="196.4" r="5.35" class="h"/><circle cx="564.8" cy="196.4" r="4.8"/>
<circle cx="473.9" cy="214.0" r="5.35" class="h"/><circle cx="473.9" cy="214.0" r="4.8"/>
<circle cx="489.2" cy="219.9" r="5.35" class="h"/><circle cx="489.2" cy="219.9" r="4.8"/>
<circle cx="520.3" cy="218.9" r="5.35" class="h"/><circle cx="520.3" cy="218.9" r="4.8"/>
<circle cx="516.2" cy="224.6" r="5.35" class="h"/><circle cx="516.2" cy="224.6" r="4.8"/>
<circle cx="477.6" cy="239.9" r="5.35" class="h"/><circle cx="477.6" cy="239.9" r="4.8"/>
<circle cx="544.2" cy="246.5" r="5.35" class="h"/><circle cx="544.2" cy="246.5" r="4.8"/>
<circle cx="491.8" cy="292.0" r="5.35" class="h"/><circle cx="491.8" cy="292.0" r="4.8"/>
<circle cx="419.3" cy="300.5" r="5.35" class="h"/><circle cx="419.3" cy="300.5" r="4.8"/>
<circle cx="327.3" cy="295.8" r="5.35" class="h"/><circle cx="327.3" cy="295.8" r="4.8"/>
<circle cx="389.7" cy="314.4" r="5.35" class="h"/><circle cx="389.7" cy="314.4" r="4.8"/>
<circle cx="380.9" cy="318.6" r="5.35" class="h"/><circle cx="380.9" cy="318.6" r="4.8"/>
<circle cx="369.7" cy="321.9" r="5.35" class="h"/><circle cx="369.7" cy="321.9" r="4.8"/>
<circle cx="408.2" cy="322.4" r="5.35" class="h"/><circle cx="408.2" cy="322.4" r="4.8"/>
<circle cx="371.5" cy="348.2" r="5.35" class="h"/><circle cx="371.5" cy="348.2" r="4.8"/>
<circle cx="363.4" cy="356.5" r="5.35" class="h"/><circle cx="363.4" cy="356.5" r="4.8"/>
<circle cx="385.1" cy="367.6" r="5.35" class="h"/><circle cx="385.1" cy="367.6" r="4.8"/>
<circle cx="476.5" cy="350.2" r="5.35" class="h"/><circle cx="476.5" cy="350.2" r="4.8"/>
<circle cx="447.6" cy="378.1" r="5.35" class="h"/><circle cx="447.6" cy="378.1" r="4.8"/>
<circle cx="460.5" cy="384.2" r="5.35" class="h"/><circle cx="460.5" cy="384.2" r="4.8"/>
<circle cx="404.3" cy="400.3" r="5.35" class="h"/><circle cx="404.3" cy="400.3" r="4.8"/>
<circle cx="404.6" cy="407.0" r="5.35" class="h"/><circle cx="404.6" cy="407.0" r="4.8"/>
<circle cx="490.1" cy="397.0" r="5.35" class="h"/><circle cx="490.1" cy="397.0" r="4.8"/>
<circle cx="519.4" cy="399.5" r="5.35" class="h"/><circle cx="519.4" cy="399.5" r="4.8"/>
<circle cx="507.7" cy="414.8" r="5.35" class="h"/><circle cx="507.7" cy="414.8" r="4.8"/>
<circle cx="461.2" cy="423.7" r="5.35" class="h"/><circle cx="461.2" cy="423.7" r="4.8"/>
<circle cx="407.2" cy="431.8" r="5.35" class="h"/><circle cx="407.2" cy="431.8" r="4.8"/>
<circle cx="411.2" cy="432.0" r="5.35" class="h"/><circle cx="411.2" cy="432.0" r="4.8"/>
<circle cx="436.2" cy="429.0" r="5.35" class="h"/><circle cx="436.2" cy="429.0" r="4.8"/>
<circle cx="428.3" cy="432.0" r="5.35" class="h"/><circle cx="428.3" cy="432.0" r="4.8"/>
<circle cx="432.5" cy="435.2" r="5.35" class="h"/><circle cx="432.5" cy="435.2" r="4.8"/>
<circle cx="424.3" cy="440.2" r="5.35" class="h"/><circle cx="424.3" cy="440.2" r="4.8"/>
<circle cx="335.3" cy="418.4" r="5.35" class="h"/><circle cx="335.3" cy="418.4" r="4.8"/>
<circle cx="359.7" cy="442.9" r="5.35" class="h"/><circle cx="359.7" cy="442.9" r="4.8"/>
<circle cx="385.7" cy="453.5" r="5.35" class="h"/><circle cx="385.7" cy="453.5" r="4.8"/>
<circle cx="368.0" cy="473.8" r="5.35" class="h"/><circle cx="368.0" cy="473.8" r="4.8"/>
<circle cx="409.3" cy="509.5" r="5.35" class="h"/><circle cx="409.3" cy="509.5" r="4.8"/>
<circle cx="439.2" cy="489.4" r="5.35" class="h"/><circle cx="439.2" cy="489.4" r="4.8"/>
<circle cx="442.7" cy="458.9" r="5.35" class="h"/><circle cx="442.7" cy="458.9" r="4.8"/>
<circle cx="445.7" cy="463.5" r="5.35" class="h"/><circle cx="445.7" cy="463.5" r="4.8"/>
<circle cx="453.1" cy="461.9" r="5.35" class="h"/><circle cx="453.1" cy="461.9" r="4.8"/>
<circle cx="460.1" cy="463.8" r="5.35" class="h"/><circle cx="460.1" cy="463.8" r="4.8"/></g>
<g fill="#808080"><circle cx="375.5" cy="300.2" r="5.6" class="h"/><circle cx="375.5" cy="300.2" r="4.55"/>
<circle cx="376.8" cy="326.0" r="5.6" class="h"/><circle cx="376.8" cy="326.0" r="4.55"/>
<circle cx="442.8" cy="287.0" r="5.6" class="h"/><circle cx="442.8" cy="287.0" r="4.55"/>
<circle cx="487.8" cy="272.0" r="5.6" class="h"/><circle cx="487.8" cy="272.0" r="4.55"/>
<circle cx="496.3" cy="288.0" r="5.6" class="h"/><circle cx="496.3" cy="288.0" r="4.55"/>
<circle cx="429.6" cy="303.9" r="5.6" class="h"/><circle cx="429.6" cy="303.9" r="4.55"/>
<circle cx="429.6" cy="311.9" r="5.6" class="h"/><circle cx="429.6" cy="311.9" r="4.55"/>
<circle cx="475.2" cy="309.4" r="5.6" class="h"/><circle cx="475.2" cy="309.4" r="4.55"/>
<circle cx="489.1" cy="313.1" r="5.6" class="h"/><circle cx="489.1" cy="313.1" r="4.55"/>
<circle cx="494.2" cy="310.9" r="5.6" class="h"/><circle cx="494.2" cy="310.9" r="4.55"/>
<circle cx="476.4" cy="320.7" r="5.6" class="h"/><circle cx="476.4" cy="320.7" r="4.55"/>
<circle cx="491.5" cy="320.4" r="5.6" class="h"/><circle cx="491.5" cy="320.4" r="4.55"/>
<circle cx="403.2" cy="331.6" r="5.6" class="h"/><circle cx="403.2" cy="331.6" r="4.55"/>
<circle cx="447.0" cy="330.6" r="5.6" class="h"/><circle cx="447.0" cy="330.6" r="4.55"/>
<circle cx="438.0" cy="335.7" r="5.6" class="h"/><circle cx="438.0" cy="335.7" r="4.55"/>
<circle cx="443.1" cy="345.9" r="5.6" class="h"/><circle cx="443.1" cy="345.9" r="4.55"/>
<circle cx="424.1" cy="348.0" r="5.6" class="h"/><circle cx="424.1" cy="348.0" r="4.55"/>
<circle cx="420.9" cy="354.2" r="5.6" class="h"/><circle cx="420.9" cy="354.2" r="4.55"/>
<circle cx="416.8" cy="360.8" r="5.6" class="h"/><circle cx="416.8" cy="360.8" r="4.55"/>
<circle cx="485.4" cy="340.5" r="5.6" class="h"/><circle cx="485.4" cy="340.5" r="4.55"/>
<circle cx="492.0" cy="343.4" r="5.6" class="h"/><circle cx="492.0" cy="343.4" r="4.55"/>
<circle cx="495.9" cy="335.5" r="5.6" class="h"/><circle cx="495.9" cy="335.5" r="4.55"/>
<circle cx="496.4" cy="338.5" r="5.6" class="h"/><circle cx="496.4" cy="338.5" r="4.55"/>
<circle cx="499.5" cy="344.5" r="5.6" class="h"/><circle cx="499.5" cy="344.5" r="4.55"/>
<circle cx="503.3" cy="337.5" r="5.6" class="h"/><circle cx="503.3" cy="337.5" r="4.55"/>
<circle cx="525.0" cy="238.9" r="5.6" class="h"/><circle cx="525.0" cy="238.9" r="4.55"/>
<circle cx="560.5" cy="261.6" r="5.6" class="h"/><circle cx="560.5" cy="261.6" r="4.55"/>
<circle cx="552.2" cy="268.3" r="5.6" class="h"/><circle cx="552.2" cy="268.3" r="4.55"/>
<circle cx="563.0" cy="273.0" r="5.6" class="h"/><circle cx="563.0" cy="273.0" r="4.55"/>
<circle cx="576.5" cy="267.6" r="5.6" class="h"/><circle cx="576.5" cy="267.6" r="4.55"/>
<circle cx="533.7" cy="290.5" r="5.6" class="h"/><circle cx="533.7" cy="290.5" r="4.55"/>
<circle cx="553.9" cy="296.6" r="5.6" class="h"/><circle cx="553.9" cy="296.6" r="4.55"/>
<circle cx="565.8" cy="301.1" r="5.6" class="h"/><circle cx="565.8" cy="301.1" r="4.55"/>
<circle cx="522.6" cy="303.5" r="5.6" class="h"/><circle cx="522.6" cy="303.5" r="4.55"/>
<circle cx="518.4" cy="312.1" r="5.6" class="h"/><circle cx="518.4" cy="312.1" r="4.55"/>
<circle cx="516.2" cy="317.4" r="5.6" class="h"/><circle cx="516.2" cy="317.4" r="4.55"/>
<circle cx="517.6" cy="324.2" r="5.6" class="h"/><circle cx="517.6" cy="324.2" r="4.55"/>
<circle cx="528.5" cy="319.4" r="5.6" class="h"/><circle cx="528.5" cy="319.4" r="4.55"/>
<circle cx="537.9" cy="319.9" r="5.6" class="h"/><circle cx="537.9" cy="319.9" r="4.55"/>
<circle cx="533.4" cy="327.9" r="5.6" class="h"/><circle cx="533.4" cy="327.9" r="4.55"/>
<circle cx="543.5" cy="327.9" r="5.6" class="h"/><circle cx="543.5" cy="327.9" r="4.55"/>
<circle cx="588.4" cy="322.7" r="5.6" class="h"/><circle cx="588.4" cy="322.7" r="4.55"/>
<circle cx="521.8" cy="342.7" r="5.6" class="h"/><circle cx="521.8" cy="342.7" r="4.55"/>
<circle cx="537.7" cy="347.6" r="5.6" class="h"/><circle cx="537.7" cy="347.6" r="4.55"/>
<circle cx="545.9" cy="353.1" r="5.6" class="h"/><circle cx="545.9" cy="353.1" r="4.55"/>
<circle cx="560.7" cy="344.4" r="5.6" class="h"/><circle cx="560.7" cy="344.4" r="4.55"/>
<circle cx="555.8" cy="354.7" r="5.6" class="h"/><circle cx="555.8" cy="354.7" r="4.55"/>
<circle cx="560.2" cy="354.4" r="5.6" class="h"/><circle cx="560.2" cy="354.4" r="4.55"/>
<circle cx="531.4" cy="361.5" r="5.6" class="h"/><circle cx="531.4" cy="361.5" r="4.55"/>
<circle cx="520.5" cy="366.6" r="5.6" class="h"/><circle cx="520.5" cy="366.6" r="4.55"/>
<circle cx="508.9" cy="369.8" r="5.6" class="h"/><circle cx="508.9" cy="369.8" r="4.55"/>
<circle cx="526.9" cy="376.6" r="5.6" class="h"/><circle cx="526.9" cy="376.6" r="4.55"/>
<circle cx="496.1" cy="411.9" r="5.6" class="h"/><circle cx="496.1" cy="411.9" r="4.55"/>
<circle cx="490.8" cy="436.0" r="5.6" class="h"/><circle cx="490.8" cy="436.0" r="4.55"/>
<circle cx="393.8" cy="371.7" r="5.6" class="h"/><circle cx="393.8" cy="371.7" r="4.55"/>
<circle cx="399.8" cy="378.0" r="5.6" class="h"/><circle cx="399.8" cy="378.0" r="4.55"/>
<circle cx="403.5" cy="381.0" r="5.6" class="h"/><circle cx="403.5" cy="381.0" r="4.55"/>
<circle cx="453.3" cy="381.0" r="5.6" class="h"/><circle cx="453.3" cy="381.0" r="4.55"/>
<circle cx="431.0" cy="420.6" r="5.6" class="h"/><circle cx="431.0" cy="420.6" r="4.55"/></g>
</g>
<g stroke="#000" stroke-width="1.5"><line x1="365.7" y1="3" x2="365.7" y2="623"/><line x1="56" y1="312.9" x2="679" y2="312.9"/></g>
<path d="M365.0 311.5 L226.6 279.1 M233.4 277.0 L225.4 278.8 L231.7 284.1 M365.0 311.5 L222.3 294.5 M228.8 291.6 L221.1 294.3 L227.9 298.8 M365.0 311.5 L242.0 316.9 M248.0 313.0 L240.8 317.0 L248.3 320.3 M365.0 311.5 L315.8 460.3 M314.3 453.4 L315.5 461.5 L321.2 455.7" fill="none" stroke="#fff" stroke-width="8.5" stroke-opacity="0.92" stroke-linecap="round" filter="url(#b2)"/>
<g fill="none" stroke-linejoin="miter" stroke-miterlimit="10"><path d="M365.0 311.5 L226.6 279.1 M233.4 277.0 L225.4 278.8 L231.7 284.1" stroke="#474747" stroke-width="3.3"/><path d="M365.0 311.5 L222.3 294.5 M228.8 291.6 L221.1 294.3 L227.9 298.8" stroke="#474747" stroke-width="3.3"/><path d="M365.0 311.5 L242.0 316.9 M248.0 313.0 L240.8 317.0 L248.3 320.3" stroke="#5e5e5e" stroke-width="2.9"/><path d="M365.0 311.5 L315.8 460.3 M314.3 453.4 L315.5 461.5 L321.2 455.7" stroke="#555" stroke-width="3.3"/></g>
<g font-weight="bold" fill="#fff" stroke="#fff" stroke-width="6.5" stroke-linejoin="round" filter="url(#b)"><text x="72.9" y="296.7" font-size="21.0">Blade length</text><text x="286.9" y="291.0" font-size="21.0">Culm height</text><text x="186.4" y="343.5" font-size="21.1">Culm diameter</text><text x="210.9" y="495.3" font-size="21.1">Blade number</text></g>
<g font-weight="bold"><text x="72.9" y="296.7" font-size="21.0" fill="#595959">Blade length</text><text x="286.9" y="291.0" font-size="21.0" fill="#595959">Culm height</text><text x="186.4" y="343.5" font-size="21.1" fill="#595959">Culm diameter</text><text x="210.9" y="495.3" font-size="21.1" fill="#595959">Blade number</text><text x="160.3" y="184.3" font-size="23.8" fill="#808080">MF</text><text x="153.2" y="527.1" font-size="23.8" fill="#909090">RM</text><text x="613.9" y="290.9" font-size="24.2" fill="#5f5f5f">LG</text><text x="384.2" y="584.9" font-size="24.2" fill="#000">SM</text></g>
<rect x="56" y="3.3" width="622.6" height="619.6" fill="none" stroke="#000" stroke-width="1.8"/>
<g font-size="20" fill="#000"><text x="54.6" y="650.2" text-anchor="middle">-4</text><text x="133.5" y="650.2" text-anchor="middle">-3</text><text x="210.2" y="650.2" text-anchor="middle">-2</text><text x="287.7" y="650.2" text-anchor="middle">-1</text><text x="365.7" y="650.2" text-anchor="middle">0</text><text x="443.9" y="650.2" text-anchor="middle">1</text><text x="521.0" y="650.2" text-anchor="middle">2</text><text x="599.1" y="650.2" text-anchor="middle">3</text><text x="678.5" y="650.2" text-anchor="middle">4</text><text transform="translate(46.6 6.5) rotate(-90)" text-anchor="middle" font-size="21.8">4</text><text transform="translate(46.6 83.2) rotate(-90)" text-anchor="middle" font-size="21.8">3</text><text transform="translate(46.6 158.1) rotate(-90)" text-anchor="middle" font-size="21.8">2</text><text transform="translate(46.6 235.0) rotate(-90)" text-anchor="middle" font-size="21.8">1</text><text transform="translate(46.6 312.2) rotate(-90)" text-anchor="middle" font-size="21.8">0</text><text transform="translate(46.6 389.0) rotate(-90)" text-anchor="middle" font-size="21.8">-1</text><text transform="translate(46.6 468.1) rotate(-90)" text-anchor="middle" font-size="21.8">-2</text><text transform="translate(46.6 545.4) rotate(-90)" text-anchor="middle" font-size="21.8">-3</text><text transform="translate(46.6 624.2) rotate(-90)" text-anchor="middle" font-size="21.8">-4</text></g>
<g font-weight="bold" font-size="24.5" fill="#000">
<text x="297.6" y="677.4">PC1 (60.8%)</text>
<text transform="translate(20.3 389.3) rotate(-90)">PC2 (23.9%)</text>
</g>
</svg>
</body></html>
